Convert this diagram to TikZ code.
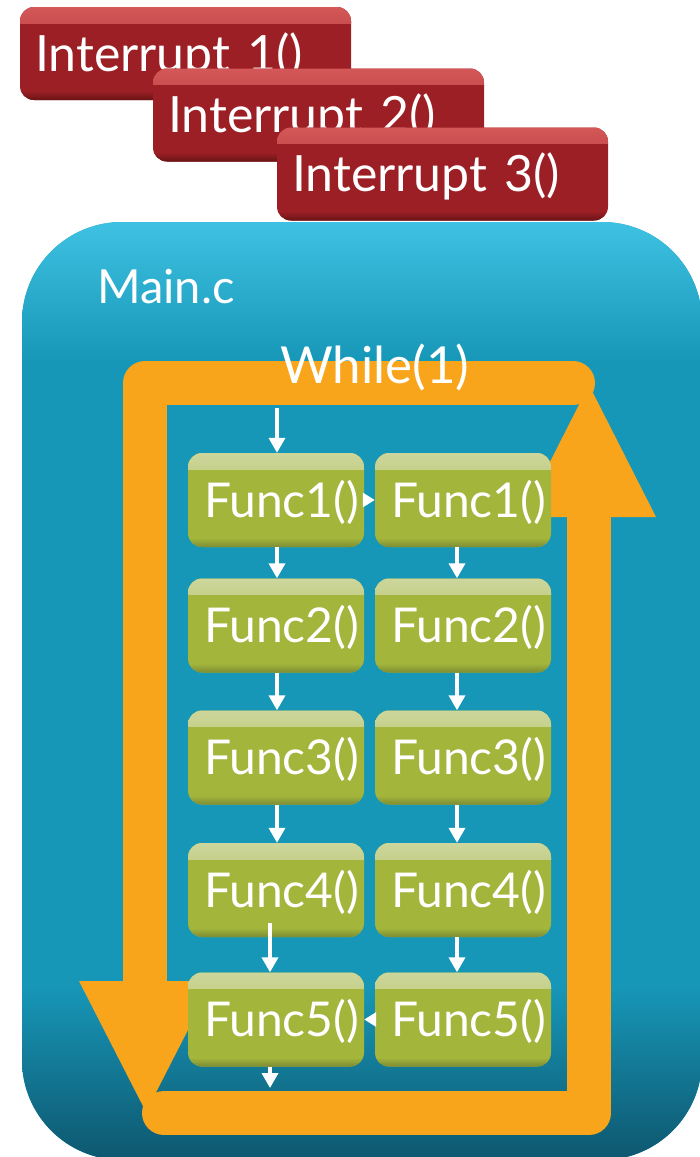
\documentclass[tikz,border=0pt]{standalone}
\usepackage{fontspec}
\setmainfont{Lato}
\usetikzlibrary{arrows.meta}

\definecolor{skytop}{HTML}{3EC1E2}
\definecolor{skymid}{HTML}{1797B8}
\definecolor{skybot}{HTML}{0E576F}
\definecolor{loopor}{HTML}{F8A51C}
\definecolor{leaf}{HTML}{A3B53B}
\definecolor{leaftop}{HTML}{CDD69C}
\definecolor{leafbot}{HTML}{7C8C35}
\definecolor{brick}{HTML}{9B1F24}
\definecolor{bricktop}{HTML}{D45858}
\definecolor{brickbot}{HTML}{681416}

\tikzset{
  bigfont/.style={font=\fontsize{48}{50}\selectfont},
  glossy/.style n args={3}{
    fill=#2, rounded corners=14pt,
    path picture={
      \shade[sharp corners, top color=#1, bottom color=#2]
        (path picture bounding box.north west) rectangle
        ([yshift=-16pt]path picture bounding box.north east);
      \shade[sharp corners, top color=#2, bottom color=#3]
        ([yshift=9pt]path picture bounding box.south west) rectangle
        (path picture bounding box.south east);
    }},
  funcbox/.style={glossy={leaftop}{leaf}{leafbot}, bigfont, text=white,
    minimum width=176pt, minimum height=94pt, inner xsep=16pt, inner ysep=0pt,
    text width=144pt, align=left, text height=34pt, text depth=0pt},
  irqbox/.style={glossy={bricktop}{brick}{brickbot}, text=white,
    font=\fontsize{50}{52}\selectfont,
    minimum width=331pt, minimum height=93pt, inner xsep=15pt, inner ysep=0pt,
    text width=301pt, align=left, text height=35pt, text depth=0pt},
  loopbar/.style={draw=loopor, line width=44pt, line cap=round, line join=round},
  flow/.style={draw=white, line width=3.5pt, -{Triangle[width=16pt,length=15pt]}},
  hop/.style={draw=white, line width=3pt, -{Triangle[width=14pt,length=12pt]}},
  caption/.style={text=white, anchor=base west, inner sep=0pt}
}

\begin{document}
\begin{tikzpicture}[x=1pt,y=-1pt]
\useasboundingbox (0,0) rectangle (700,1157);

% main.c container with vertical colour gradient
\begin{scope}
  \clip[rounded corners=100pt] (22,222) rectangle (702,1160);
  \fill[skymid] (0,222) rectangle (702,1160);
  \shade[top color=skytop, bottom color=skymid] (0,222) rectangle (702,362);
  \shade[top color=skymid, bottom color=skybot] (0,985) rectangle (702,1160);
\end{scope}
\node[caption, font=\fontsize{47}{49}\selectfont] (mainname) at (97,303) {Main.c};

% interrupt handlers, stacked
\node[irqbox] (irq1) at (185.5,53.5) {Interrupt 1()};
\node[irqbox] (irq2) at (318.5,115) {Interrupt 2()};
\node[irqbox] (irq3) at (442.5,174) {Interrupt 3()};

% the endless loop
\draw[loopbar] (145,981) -- (145,383) -- (573,383);
\fill[loopor] (79,981) -- (213,981) -- (146,1112) -- cycle;
\draw[loopbar] (589,517) -- (589,1113) -- (164,1113);
\fill[loopor] (522,517) -- (656,517) -- (589,385) -- cycle;
\node[caption, font=\fontsize{51}{53}\selectfont] (loopname) at (280,383) {While(1)};

% function calls, two passes
\foreach \i/\y in {1/500,2/625.5,3/757.5,4/890,5/1019.5}{
  \node[funcbox] (l\i) at (276,\y) {Func\i()};
  \node[funcbox] (r\i) at (463,\y) {Func\i()};
}

\coordinate (entry) at (277,408);
\coordinate (exit) at (270,1088);

\draw[flow] (entry) -- (entry |- l1.north);
\foreach \a/\b in {1/2,2/3,3/4}{
  \draw[flow] ([xshift=1pt]l\a.south) -- ([xshift=1pt]l\b.north);
}
\draw[flow] ([xshift=-6pt,yshift=14pt]l4.south) -- ([xshift=-6pt]l5.north);
\draw[flow] ([xshift=-6pt]l5.south) -- (exit);
\foreach \a/\b in {1/2,2/3,3/4,4/5}{
  \draw[flow] ([xshift=-6pt]r\a.south) -- ([xshift=-6pt]r\b.north);
}
\draw[hop] (l1.east) -- (r1.west);
\draw[hop] (r5.west) -- (l5.east);
\end{tikzpicture}
\end{document}
